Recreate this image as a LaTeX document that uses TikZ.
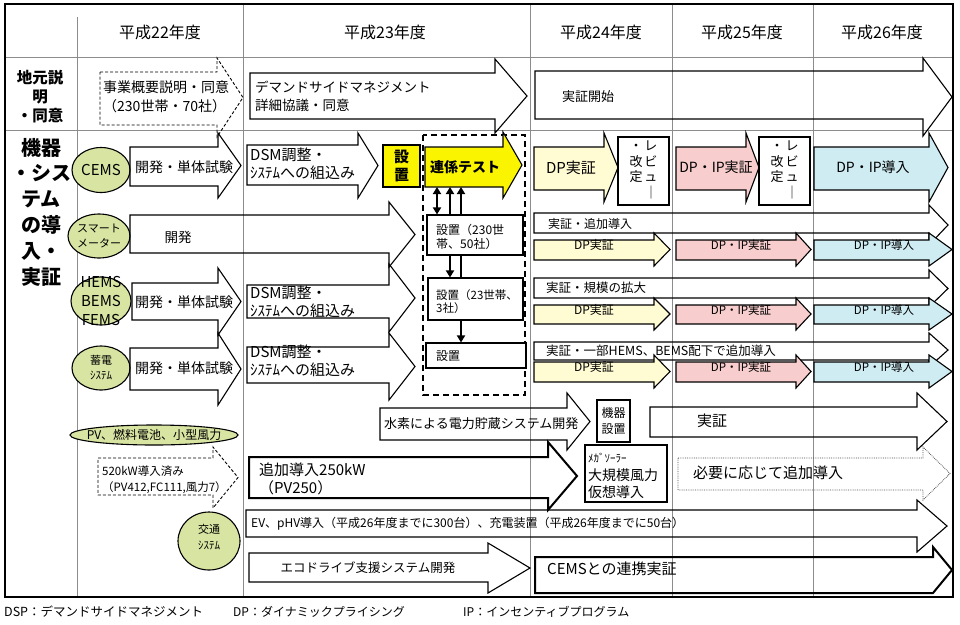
\documentclass[tikz,border=0pt]{standalone}
\usepackage{fontspec}
\setmainfont{Noto Sans CJK JP}
\usetikzlibrary{shapes.geometric,arrows.meta}

\definecolor{kimidori}{RGB}{215,228,162}
\definecolor{kiiro}{RGB}{250,244,0}
\definecolor{usuki}{RGB}{255,252,212}
\definecolor{usumomo}{RGB}{247,205,205}
\definecolor{usuao}{RGB}{207,236,243}
\definecolor{keisen}{RGB}{140,140,140}

\newcommand{\sz}[2]{\fontsize{#1}{#2}\selectfont}
% block arrow: x0, head back, tip, body top, body bottom, head top, head bottom
\newcommand{\yaji}[8][]{\draw[blk,#1] (#2,#5) -- (#3,#5) -- (#3,#7) -- (#4,{(#7+#8)/2}) -- (#3,#8) -- (#3,#6) -- (#2,#6) -- cycle;}

\begin{document}
\begin{tikzpicture}[x=1pt,y=-1pt,
  blk/.style={line width=1.1pt,line join=miter},
  futo/.style={line width=2pt},
  tensen/.style={line width=0.9pt,dash pattern=on 3pt off 2pt},
  kei/.style={draw=keisen,line width=0.8pt},
  en/.style={ellipse,draw,line width=1.1pt,fill=kimidori,inner sep=0pt},
  hako/.style={draw,line width=1.1pt,fill=white,inner sep=0pt},
  moji/.style={inner sep=0pt,anchor=west,align=left},
  naka/.style={inner sep=0pt,align=center},
  conn/.style={line width=2pt},
  >={Triangle[length=7pt,width=8pt]}]
\useasboundingbox (0,0) rectangle (960,624);

% table lines
\draw[kei] (5,57) -- (953,57);
\draw[kei] (5,130) -- (953,130);
\draw[kei] (77,17) -- (77,597);
\foreach \x in {243,530,672,813} \draw[kei] (\x,4) -- (\x,597);

\node[naka,font=\sz{16}{16}] (h22) at (160,32) {平成22年度};
\node[naka,font=\sz{16}{16}] (h23) at (385,32) {平成23年度};
\node[naka,font=\sz{16}{16}] (h24) at (601,32) {平成24年度};
\node[naka,font=\sz{16}{16}] (h25) at (742,32) {平成25年度};
\node[naka,font=\sz{16}{16}] (h26) at (882,32) {平成26年度};

\node[naka,font=\bfseries\sz{15.5}{19}] (jimoto) at (40,97) {地元説\\明\\・同意};
\node[naka,font=\bfseries\sz{20}{25.8}] (kiki) at (41,212) {機器\\・シス\\テム\\の導\\入・\\実証};

% jimoto setsumei
\yaji[tensen]{100}{217}{243}{72}{125}{58}{137}
\node[moji,font=\sz{14}{19}] (jigyo) at (103,97) {事業概要説明・同意\\（230世帯・70社）};
\yaji{250}{495}{527}{73}{119}{59}{133}
\node[moji,font=\sz{13.5}{18}] (dsmkyogi) at (255,96) {デマンドサイドマネジメント\\詳細協議・同意};
\yaji{535}{923}{952}{71}{119}{58}{136}
\node[moji,font=\sz{13}{13}] (kaishi) at (562,97) {実証開始};

% CEMS
\node[en,minimum width=58pt,minimum height=45pt] (cems) at (101,170) {};
\node[naka,font=\sz{15}{15}] (cemst) at (cems) {CEMS};
\yaji{130}{218}{241}{147}{186}{133}{198}
\node[moji,font=\sz{14}{14}] (tantai1) at (135,167) {開発・単体試験};
\yaji{247}{358}{378}{145}{185}{133}{198}
\node[moji,font=\sz{15}{18}] (dsm1) at (250,164) {DSM調整・\\ｼｽﾃﾑへの組込み};
\node[hako,fill=kiiro,minimum width=37pt,minimum height=42pt] (secchi) at (401.5,166) {};
\node[naka,font=\bfseries\sz{15}{18}] (secchit) at (secchi) {設\\置};

\draw[line width=2pt,dash pattern=on 6pt off 4pt] (423,135) rectangle (525,395);
\yaji[fill=kiiro]{425}{503}{522}{147}{187}{132}{198}
\node[naka,font=\bfseries\sz{14}{14}] (renkei) at (465,167) {連係テスト};
\coordinate (renkeisoko) at (465,187);
\coordinate (xa) at (437,0);
\coordinate (xb) at (450,0);
\coordinate (xc) at (461,0);

\node[hako,minimum width=95pt,minimum height=42pt] (setti2) at (475.5,299) {};
\draw[conn,->] (setti2.north -| xc) -- (renkeisoko -| xc);
\node[hako,minimum width=96pt,minimum height=40pt] (setti1) at (475,235) {};
\node[hako,minimum width=100pt,minimum height=25pt] (setti3) at (476,355.5) {};
\node[moji,font=\sz{12}{14}] (setti1t) at (436,237) {設置（230世\\帯、50社）};
\node[moji,font=\sz{11.5}{13.5}] (setti2t) at (436,301.5) {設置（23世帯、\\3社）};
\node[moji,font=\sz{12}{12}] (setti3t) at (436,356) {設置};
\draw[conn,<->] (setti1.north -| xa) -- (renkeisoko -| xa);
\draw[conn,->] (setti1.north -| xb) -- (renkeisoko -| xb);
\draw[conn,->] (setti1.south -| xb) -- (setti2.north -| xb);
\draw[conn,->] (setti2.south -| xc) -- (setti3.north -| xc);

\yaji[fill=usuki]{534}{604}{618}{147}{190}{133}{202}
\node[naka,font=\sz{15}{15}] (dp1) at (571,168) {DP実証};
\node[hako,minimum width=51pt,minimum height=68pt] (rev1) at (643.5,171) {};
\node[inner sep=0pt,font=\sz{13}{15}] (rev1t) at (rev1) {\begin{tabular}{@{}c@{\hspace{2pt}}c@{}}・&レ\\改&ビ\\定&ュ\\&｜\end{tabular}};
\yaji[fill=usumomo]{676}{746}{759}{147}{190}{133}{202}
\node[naka,font=\sz{14}{14}] (dpip1) at (716,167) {DP・IP実証};
\node[hako,minimum width=51pt,minimum height=68pt] (rev2) at (784.5,171) {};
\node[inner sep=0pt,font=\sz{13}{15}] (rev2t) at (rev2) {\begin{tabular}{@{}c@{\hspace{2pt}}c@{}}・&レ\\改&ビ\\定&ュ\\&｜\end{tabular}};
\yaji[fill=usuao]{814}{929}{948}{147}{190}{133}{202}
\node[naka,font=\sz{14}{14}] (dpdonyu1) at (873,167) {DP・IP導入};

% smart meter
\node[en,minimum width=62pt,minimum height=44pt] (smart) at (99,236) {};
\node[naka,font=\sz{11}{15}] (smartt) at (smart) {スマート\\メーター};
\yaji{130}{389}{415}{215}{253}{202}{267}
\node[moji,font=\sz{13.5}{13.5}] (kaihatsu) at (164.5,237) {開発};
\yaji{534}{929}{948}{213}{233}{205}{245}
\node[moji,font=\sz{12}{12}] (tsuika) at (548,224) {実証・追加導入};

% HEMS
\node[en,minimum width=60pt,minimum height=48pt] (hems) at (101,301) {};
\node[naka,font=\sz{15}{19}] (hemst) at (hems) {HEMS\\BEMS\\FEMS};
\yaji{132}{218}{241}{283}{320}{268}{335}
\node[moji,font=\sz{14}{14}] (tantai2) at (135,302) {開発・単体試験};
\yaji{247}{389}{415}{285}{318}{264}{332}
\node[moji,font=\sz{15}{18}] (dsm2) at (250,301.5) {DSM調整・\\ｼｽﾃﾑへの組込み};
\yaji{534}{929}{948}{278}{298}{270}{307}
\node[moji,font=\sz{12.5}{12.5}] (kibo) at (546,288) {実証・規模の拡大};

% chikuden
\node[en,minimum width=58pt,minimum height=44pt] (chiku) at (101,368) {};
\node[naka,font=\sz{11}{15}] (chikut) at (chiku) {蓄電\\ｼｽﾃﾑ};
\yaji{130}{218}{241}{348}{390}{333}{405}
\node[moji,font=\sz{14}{14}] (tantai3) at (135,368) {開発・単体試験};
\yaji{247}{389}{415}{347}{383}{333}{400}
\node[moji,font=\sz{15}{18}] (dsm3) at (250,361) {DSM調整・\\ｼｽﾃﾑへの組込み};
\yaji{534}{929}{948}{342}{360}{333}{367}
\node[moji,font=\sz{12.5}{12.5}] (ichibu) at (546,351) {実証・一部HEMS、BEMS配下で追加導入};

\foreach \t/\b/\ht/\hb/\n in {240/260/233/266/a,305/324/298/330/b,362/382/355/388/c} {
  \yaji[fill=usuki]{534}{654}{670}{\t}{\b}{\ht}{\hb}
  \yaji[fill=usumomo]{676}{796}{811}{\t}{\b}{\ht}{\hb}
  \yaji[fill=usuao]{814}{929}{952}{\t}{\b}{\ht}{\hb}
  \node[naka,font=\sz{12}{12}] (dp\n) at (594,{(\t+\b)/2}) {DP実証};
  \node[naka,font=\sz{11.5}{11.5}] (dpip\n) at (741,{(\t+\b)/2}) {DP・IP実証};
  \node[naka,font=\sz{11.5}{11.5}] (dpdonyu\n) at (884,{(\t+\b)/2}) {DP・IP導入};
}

% suiso, PV
\yaji{380}{567}{590}{408}{440}{393}{450}
\node[moji,font=\sz{13}{13}] (suiso) at (384,424) {水素による電力貯蔵システム開発};
\node[hako,minimum width=33pt,minimum height=42pt] (kikisecchi) at (613.5,421) {};
\node[naka,font=\sz{12}{16}] (kikisecchit) at (kikisecchi) {機器\\設置};
\yaji{650}{917}{947}{407}{437}{393}{450}
\node[moji,font=\sz{15}{15}] (jissho) at (697,421) {実証};

\node[en,minimum width=168pt,minimum height=20pt] (pv) at (154,435) {};
\node[naka,font=\sz{12}{12}] (pvt) at (pv) {PV、燃料電池、小型風力};
\yaji[tensen]{98}{213}{238}{458}{495}{447}{508}
\node[moji,font=\sz{11.5}{16}] (sumi) at (102,480) {520kW導入済み\\（PV412,FC111,風力7）};
\yaji[futo]{249}{548}{577}{457}{498}{442}{510}
\node[moji,font=\sz{15}{18}] (pv250) at (259,479) {追加導入250kW\\（PV250）};
\node[hako,futo,minimum width=82pt,minimum height=57pt] (mega) at (626,473.5) {};
\node[moji,font=\sz{11}{11}] (megat1) at (588,458) {ﾒｶﾞｿｰﾗｰ};
\node[moji,font=\sz{14}{14}] (megat2) at (588,475) {大規模風力};
\node[moji,font=\sz{14}{14}] (megat3) at (588,492) {仮想導入};
\yaji[draw=black!70,line width=0.8pt,densely dotted]{678}{923}{950}{458}{490}{447}{500}
\node[moji,font=\sz{15}{15}] (hitsuyo) at (693,473) {必要に応じて追加導入};

% kotsu
\yaji{246}{917}{947}{510}{537}{500}{552}
\node[moji,font=\sz{12}{12}] (ev) at (251,524) {EV、pHV導入（平成26年度までに300台）、充電装置（平成26年度までに50台）};
\node[en,minimum width=62pt,minimum height=58pt] (kotsu) at (209,541) {};
\node[naka,font=\sz{11}{16}] (kotsut) at (209,537) {交通\\ｼｽﾃﾑ};
\yaji{249}{488}{530}{553}{582}{543}{593}
\node[naka,font=\sz{12.5}{12.5}] (eco) at (368,568) {エコドライブ支援システム開発};
\yaji[futo]{535}{933}{952}{557}{593}{547}{593}
\node[moji,font=\sz{15}{15}] (cemsrenkei) at (547,569) {CEMSとの連携実証};

\draw[line width=2.2pt] (5,4) rectangle (953,597);

\node[moji,font=\sz{12.5}{12.5}] (chu1) at (4,612) {DSP：デマンドサイドマネジメント};
\node[moji,font=\sz{12}{12}] (chu2) at (233,612) {DP：ダイナミックプライシング};
\node[moji,font=\sz{12}{12}] (chu3) at (463,612) {IP：インセンティブプログラム};
\end{tikzpicture}
\end{document}
